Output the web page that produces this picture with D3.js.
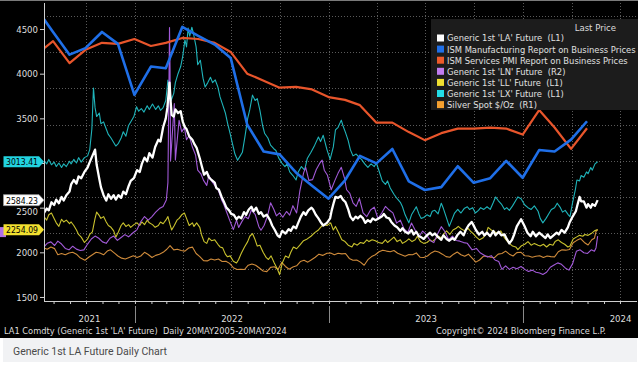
<!DOCTYPE html>
<html><head><meta charset="utf-8">
<script src="https://cdn.jsdelivr.net/npm/d3@7"></script>
<style>html,body{margin:0;padding:0;background:#fff;}svg{display:block;}</style>
</head><body><svg id="c" width="640" height="366"></svg>
<script>
// ---------- DATA ----------
const laPrice = [["2021-07-14",2440],["2021-07-19",2490],["2021-07-23",2470],["2021-07-28",2560],["2021-08-02",2530],["2021-08-06",2590],["2021-08-11",2550],["2021-08-16",2620],["2021-08-20",2580],["2021-08-25",2640],["2021-08-31",2680],["2021-09-03",2760],["2021-09-08",2810],["2021-09-13",2770],["2021-09-17",2850],["2021-09-22",2830],["2021-09-28",2900],["2021-10-04",2950],["2021-10-08",3010],["2021-10-13",3080],["2021-10-18",3150],["2021-10-21",2980],["2021-10-26",2820],["2021-10-29",2730],["2021-11-03",2640],["2021-11-08",2580],["2021-11-12",2650],["2021-11-17",2600],["2021-11-22",2640],["2021-11-26",2590],["2021-12-01",2640],["2021-12-06",2610],["2021-12-10",2680],["2021-12-15",2650],["2021-12-20",2740],["2021-12-24",2800],["2021-12-30",2830],["2022-01-05",2920],["2022-01-10",2900],["2022-01-14",2990],["2022-01-19",3060],["2022-01-24",3020],["2022-01-28",3110],["2022-02-03",3060],["2022-02-08",3180],["2022-02-14",3260],["2022-02-18",3240],["2022-02-23",3400],["2022-02-28",3500],["2022-03-03",3620],["2022-03-07",3900],["2022-03-09",3700],["2022-03-11",3540],["2022-03-15",3520],["2022-03-18",3600],["2022-03-23",3560],["2022-03-28",3580],["2022-04-01",3460],["2022-04-05",3400],["2022-04-08",3380],["2022-04-13",3300],["2022-04-19",3260],["2022-04-22",3220],["2022-04-27",3170],["2022-05-03",3050],["2022-05-06",2980],["2022-05-11",2870],["2022-05-16",2900],["2022-05-20",2840],["2022-05-25",2810],["2022-05-31",2780],["2022-06-03",2720],["2022-06-08",2700],["2022-06-13",2620],["2022-06-17",2570],["2022-06-22",2500],["2022-06-27",2470],["2022-07-01",2430],["2022-07-06",2420],["2022-07-11",2370],["2022-07-15",2400],["2022-07-20",2380],["2022-07-25",2450],["2022-07-29",2420],["2022-08-03",2480],["2022-08-08",2510],["2022-08-12",2460],["2022-08-17",2500],["2022-08-22",2430],["2022-08-26",2450],["2022-08-31",2400],["2022-09-06",2420],["2022-09-12",2360],["2022-09-16",2300],["2022-09-21",2250],["2022-09-26",2190],["2022-09-30",2170],["2022-10-05",2240],["2022-10-11",2210],["2022-10-17",2260],["2022-10-21",2240],["2022-10-26",2290],["2022-10-31",2270],["2022-11-04",2330],["2022-11-09",2400],["2022-11-14",2450],["2022-11-18",2420],["2022-11-23",2470],["2022-11-29",2500],["2022-12-02",2480],["2022-12-07",2420],["2022-12-12",2380],["2022-12-16",2340],["2022-12-21",2300],["2022-12-28",2330],["2023-01-03",2380],["2023-01-06",2470],["2023-01-10",2560],["2023-01-13",2620],["2023-01-18",2610],["2023-01-23",2630],["2023-01-27",2590],["2023-02-01",2560],["2023-02-06",2480],["2023-02-10",2400],["2023-02-15",2360],["2023-02-20",2400],["2023-02-24",2380],["2023-03-01",2410],["2023-03-06",2380],["2023-03-10",2330],["2023-03-15",2360],["2023-03-20",2340],["2023-03-24",2380],["2023-03-29",2360],["2023-04-04",2380],["2023-04-10",2400],["2023-04-14",2430],["2023-04-19",2390],["2023-04-24",2380],["2023-04-28",2340],["2023-05-04",2300],["2023-05-09",2280],["2023-05-15",2240],["2023-05-19",2270],["2023-05-24",2230],["2023-05-30",2210],["2023-06-05",2250],["2023-06-09",2200],["2023-06-14",2230],["2023-06-19",2180],["2023-06-23",2170],["2023-06-28",2150],["2023-07-04",2190],["2023-07-10",2220],["2023-07-14",2190],["2023-07-19",2210],["2023-07-25",2170],["2023-07-31",2140],["2023-08-04",2190],["2023-08-10",2150],["2023-08-15",2130],["2023-08-21",2160],["2023-08-25",2140],["2023-08-30",2190],["2023-09-05",2230],["2023-09-11",2190],["2023-09-15",2250],["2023-09-20",2300],["2023-09-26",2340],["2023-09-29",2310],["2023-10-04",2250],["2023-10-10",2200],["2023-10-16",2230],["2023-10-20",2190],["2023-10-25",2220],["2023-10-31",2180],["2023-11-06",2240],["2023-11-10",2190],["2023-11-16",2230],["2023-11-21",2190],["2023-11-27",2200],["2023-12-01",2150],["2023-12-06",2100],["2023-12-11",2140],["2023-12-15",2200],["2023-12-20",2290],["2023-12-28",2370],["2024-01-03",2300],["2024-01-09",2220],["2024-01-15",2180],["2024-01-19",2230],["2024-01-25",2180],["2024-01-31",2220],["2024-02-06",2190],["2024-02-12",2160],["2024-02-16",2200],["2024-02-21",2160],["2024-02-27",2190],["2024-03-04",2220],["2024-03-08",2200],["2024-03-13",2250],["2024-03-19",2220],["2024-03-25",2280],["2024-03-28",2330],["2024-04-03",2400],["2024-04-09",2460],["2024-04-12",2530],["2024-04-16",2620],["2024-04-19",2570],["2024-04-24",2570],["2024-04-29",2500],["2024-05-02",2540],["2024-05-07",2500],["2024-05-10",2540],["2024-05-15",2520],["2024-05-20",2584.23]];

const lxPrice = [["2021-07-14",3030],["2021-07-19",2990],["2021-07-23",3040],["2021-07-28",2980],["2021-08-02",3010],["2021-08-06",2960],["2021-08-11",3000],["2021-08-16",2950],["2021-08-20",2990],["2021-08-25",2960],["2021-08-31",3020],["2021-09-03",2990],["2021-09-08",3040],["2021-09-13",3000],["2021-09-17",3060],["2021-09-22",3010],["2021-09-28",3060],["2021-10-04",3080],["2021-10-08",3150],["2021-10-12",3380],["2021-10-15",3840],["2021-10-18",3620],["2021-10-21",3520],["2021-10-26",3560],["2021-10-29",3440],["2021-11-03",3460],["2021-11-08",3380],["2021-11-12",3320],["2021-11-17",3280],["2021-11-22",3230],["2021-11-26",3190],["2021-12-01",3220],["2021-12-06",3280],["2021-12-10",3350],["2021-12-15",3300],["2021-12-20",3420],["2021-12-24",3460],["2021-12-30",3520],["2022-01-04",3630],["2022-01-08",3580],["2022-01-13",3610],["2022-01-18",3570],["2022-01-24",3640],["2022-01-28",3600],["2022-02-03",3660],["2022-02-09",3600],["2022-02-14",3640],["2022-02-18",3590],["2022-02-23",3620],["2022-02-28",3700],["2022-03-04",3930],["2022-03-07",3850],["2022-03-10",3700],["2022-03-15",3780],["2022-03-18",3900],["2022-03-23",4000],["2022-03-28",4080],["2022-04-01",4200],["2022-04-05",4380],["2022-04-08",4300],["2022-04-11",4510],["2022-04-14",4420],["2022-04-18",4520],["2022-04-21",4450],["2022-04-26",4300],["2022-04-29",4100],["2022-05-04",4150],["2022-05-09",3950],["2022-05-13",3850],["2022-05-18",3900],["2022-05-23",3960],["2022-05-27",3900],["2022-06-01",3930],["2022-06-06",3850],["2022-06-10",3740],["2022-06-15",3650],["2022-06-20",3560],["2022-06-24",3450],["2022-06-29",3330],["2022-07-04",3200],["2022-07-08",3100],["2022-07-13",3030],["2022-07-18",3080],["2022-07-22",3120],["2022-07-27",3300],["2022-08-01",3500],["2022-08-05",3600],["2022-08-10",3760],["2022-08-15",3700],["2022-08-19",3720],["2022-08-24",3590],["2022-08-29",3420],["2022-09-02",3330],["2022-09-08",3280],["2022-09-13",3200],["2022-09-19",3160],["2022-09-23",3140],["2022-09-28",3060],["2022-10-04",3000],["2022-10-10",2960],["2022-10-14",2990],["2022-10-19",2900],["2022-10-25",2860],["2022-10-31",2810],["2022-11-04",2900],["2022-11-10",2960],["2022-11-16",2920],["2022-11-21",3050],["2022-11-28",3120],["2022-12-05",3200],["2022-12-12",3290],["2022-12-16",3240],["2022-12-21",3310],["2022-12-28",3150],["2023-01-03",3040],["2023-01-09",3180],["2023-01-13",3370],["2023-01-18",3400],["2023-01-24",3480],["2023-01-27",3420],["2023-02-01",3340],["2023-02-06",3250],["2023-02-10",3150],["2023-02-15",3080],["2023-02-21",3100],["2023-02-27",3060],["2023-03-03",3040],["2023-03-09",2990],["2023-03-15",2950],["2023-03-21",2990],["2023-03-27",2960],["2023-03-31",3000],["2023-04-05",2910],["2023-04-11",2800],["2023-04-17",2760],["2023-04-21",2800],["2023-04-26",2720],["2023-05-03",2650],["2023-05-09",2600],["2023-05-15",2560],["2023-05-19",2510],["2023-05-24",2420],["2023-05-31",2330],["2023-06-05",2420],["2023-06-09",2460],["2023-06-14",2510],["2023-06-19",2430],["2023-06-23",2380],["2023-06-28",2390],["2023-07-04",2420],["2023-07-10",2400],["2023-07-14",2460],["2023-07-19",2470],["2023-07-25",2430],["2023-07-31",2550],["2023-08-04",2490],["2023-08-09",2400],["2023-08-15",2290],["2023-08-21",2380],["2023-08-25",2440],["2023-08-31",2480],["2023-09-06",2440],["2023-09-12",2490],["2023-09-18",2510],["2023-09-22",2480],["2023-09-28",2500],["2023-10-03",2440],["2023-10-09",2470],["2023-10-13",2500],["2023-10-19",2480],["2023-10-25",2510],["2023-10-31",2480],["2023-11-06",2560],["2023-11-10",2620],["2023-11-15",2580],["2023-11-21",2540],["2023-11-27",2480],["2023-12-01",2500],["2023-12-06",2470],["2023-12-12",2520],["2023-12-18",2580],["2023-12-22",2620],["2023-12-28",2600],["2024-01-04",2530],["2024-01-10",2500],["2024-01-16",2480],["2024-01-22",2520],["2024-01-29",2460],["2024-02-02",2380],["2024-02-07",2330],["2024-02-13",2380],["2024-02-19",2440],["2024-02-23",2480],["2024-02-29",2500],["2024-03-05",2550],["2024-03-11",2500],["2024-03-15",2450],["2024-03-20",2470],["2024-03-26",2420],["2024-03-29",2400],["2024-04-03",2560],["2024-04-08",2700],["2024-04-11",2810],["2024-04-16",2800],["2024-04-19",2860],["2024-04-24",2840],["2024-04-29",2900],["2024-05-02",2880],["2024-05-07",2950],["2024-05-10",2920],["2024-05-15",2990],["2024-05-20",3013.41]];

const llPrice = [["2021-07-14",2400],["2021-07-19",2360],["2021-07-23",2420],["2021-07-28",2440],["2021-08-02",2380],["2021-08-06",2330],["2021-08-11",2290],["2021-08-16",2370],["2021-08-20",2340],["2021-08-25",2360],["2021-08-31",2320],["2021-09-03",2340],["2021-09-08",2300],["2021-09-13",2250],["2021-09-17",2200],["2021-09-22",2170],["2021-09-28",2110],["2021-10-04",2150],["2021-10-08",2200],["2021-10-13",2230],["2021-10-18",2380],["2021-10-21",2450],["2021-10-26",2410],["2021-10-29",2380],["2021-11-03",2400],["2021-11-08",2340],["2021-11-12",2300],["2021-11-17",2280],["2021-11-22",2240],["2021-11-26",2170],["2021-12-01",2230],["2021-12-06",2300],["2021-12-10",2330],["2021-12-15",2290],["2021-12-20",2310],["2021-12-24",2280],["2021-12-30",2310],["2022-01-05",2330],["2022-01-10",2300],["2022-01-14",2340],["2022-01-19",2310],["2022-01-24",2360],["2022-01-28",2330],["2022-02-03",2310],["2022-02-08",2280],["2022-02-14",2300],["2022-02-18",2340],["2022-02-23",2320],["2022-02-28",2360],["2022-03-04",2400],["2022-03-08",2310],["2022-03-11",2250],["2022-03-16",2300],["2022-03-21",2360],["2022-03-25",2380],["2022-03-30",2420],["2022-04-04",2440],["2022-04-08",2380],["2022-04-13",2300],["2022-04-19",2330],["2022-04-22",2290],["2022-04-27",2330],["2022-05-03",2280],["2022-05-06",2200],["2022-05-11",2120],["2022-05-16",2100],["2022-05-20",2160],["2022-05-25",2130],["2022-05-31",2140],["2022-06-06",2090],["2022-06-10",2060],["2022-06-15",2050],["2022-06-20",1980],["2022-06-24",1950],["2022-06-29",1960],["2022-07-05",1900],["2022-07-11",1880],["2022-07-15",1920],["2022-07-20",1990],["2022-07-26",2060],["2022-08-01",2120],["2022-08-05",2180],["2022-08-10",2210],["2022-08-15",2140],["2022-08-19",2070],["2022-08-24",2080],["2022-08-30",2000],["2022-09-05",1940],["2022-09-09",1920],["2022-09-14",1960],["2022-09-20",1880],["2022-09-26",1810],["2022-09-30",1750],["2022-10-05",1880],["2022-10-11",1960],["2022-10-17",1940],["2022-10-21",2000],["2022-10-26",2060],["2022-11-01",2040],["2022-11-07",2080],["2022-11-14",2130],["2022-11-21",2150],["2022-11-28",2180],["2022-12-05",2220],["2022-12-12",2250],["2022-12-16",2280],["2022-12-21",2310],["2022-12-28",2300],["2023-01-04",2330],["2023-01-09",2250],["2023-01-13",2290],["2023-01-19",2220],["2023-01-25",2140],["2023-01-31",2120],["2023-02-06",2080],["2023-02-13",2060],["2023-02-17",2100],["2023-02-23",2080],["2023-03-01",2110],["2023-03-07",2100],["2023-03-13",2140],["2023-03-17",2120],["2023-03-23",2140],["2023-03-29",2130],["2023-04-04",2110],["2023-04-11",2100],["2023-04-17",2140],["2023-04-21",2110],["2023-04-27",2140],["2023-05-03",2170],["2023-05-09",2120],["2023-05-15",2140],["2023-05-19",2100],["2023-05-25",2120],["2023-05-31",2150],["2023-06-06",2120],["2023-06-12",2140],["2023-06-16",2180],["2023-06-22",2120],["2023-06-28",2100],["2023-07-04",2110],["2023-07-10",2140],["2023-07-14",2120],["2023-07-20",2150],["2023-07-26",2180],["2023-07-31",2160],["2023-08-04",2200],["2023-08-10",2240],["2023-08-16",2200],["2023-08-22",2250],["2023-08-28",2270],["2023-09-01",2290],["2023-09-07",2260],["2023-09-13",2240],["2023-09-19",2270],["2023-09-25",2230],["2023-09-29",2210],["2023-10-05",2170],["2023-10-11",2140],["2023-10-17",2160],["2023-10-23",2200],["2023-10-27",2280],["2023-11-02",2250],["2023-11-08",2230],["2023-11-14",2210],["2023-11-20",2240],["2023-11-27",2160],["2023-12-01",2130],["2023-12-06",2100],["2023-12-12",2070],["2023-12-18",2060],["2023-12-22",2030],["2023-12-28",2070],["2024-01-04",2090],["2024-01-10",2120],["2024-01-16",2080],["2024-01-22",2100],["2024-01-29",2080],["2024-02-02",2070],["2024-02-08",2090],["2024-02-14",2060],["2024-02-20",2090],["2024-02-26",2080],["2024-03-01",2120],["2024-03-07",2140],["2024-03-13",2110],["2024-03-19",2090],["2024-03-25",2060],["2024-03-29",2070],["2024-04-04",2150],["2024-04-10",2170],["2024-04-16",2190],["2024-04-22",2180],["2024-04-26",2200],["2024-05-02",2190],["2024-05-08",2210],["2024-05-14",2240],["2024-05-20",2254.09]];

const lnPrice = [["2021-07-14",18100],["2021-07-20",18600],["2021-07-27",18800],["2021-08-03",18300],["2021-08-09",18900],["2021-08-16",18500],["2021-08-23",17900],["2021-08-30",17700],["2021-09-06",18200],["2021-09-13",17800],["2021-09-20",17600],["2021-09-27",17700],["2021-10-04",18500],["2021-10-11",19200],["2021-10-18",19600],["2021-10-25",19300],["2021-11-01",18800],["2021-11-08",18600],["2021-11-15",19300],["2021-11-22",19600],["2021-11-29",19000],["2021-12-06",19400],["2021-12-13",19800],["2021-12-20",19500],["2021-12-29",20100],["2022-01-05",20500],["2022-01-12",21600],["2022-01-19",22300],["2022-01-26",21800],["2022-02-02",22300],["2022-02-09",22900],["2022-02-16",23400],["2022-02-23",23700],["2022-03-01",24600],["2022-03-04",27000],["2022-03-07",48400],["2022-03-08",42500],["2022-03-09",30000],["2022-03-16",37900],["2022-03-18",30100],["2022-03-21",32500],["2022-03-25",35600],["2022-03-30",34000],["2022-04-04",34600],["2022-04-08",32900],["2022-04-13",33500],["2022-04-19",31900],["2022-04-25",30800],["2022-04-29",28700],["2022-05-05",28200],["2022-05-10",27300],["2022-05-16",26600],["2022-05-20",28000],["2022-05-26",27100],["2022-06-01",26500],["2022-06-07",25900],["2022-06-13",24600],["2022-06-17",24000],["2022-06-22",23000],["2022-06-28",21800],["2022-07-05",20500],["2022-07-11",21800],["2022-07-15",20800],["2022-07-21",21600],["2022-07-27",22300],["2022-08-02",22000],["2022-08-08",23200],["2022-08-15",22600],["2022-08-22",20900],["2022-08-26",20400],["2022-09-01",21100],["2022-09-07",22300],["2022-09-13",24200],["2022-09-19",23300],["2022-09-24",22400],["2022-09-30",22800],["2022-10-06",22200],["2022-10-13",23000],["2022-10-19",22500],["2022-10-25",23800],["2022-11-01",22800],["2022-11-07",25800],["2022-11-14",28300],["2022-11-18",29100],["2022-11-24",27300],["2022-12-01",27400],["2022-12-08",28800],["2022-12-14",29600],["2022-12-19",30100],["2022-12-23",28700],["2022-12-29",28000],["2023-01-05",26000],["2023-01-12",27300],["2023-01-18",28300],["2023-01-24",29100],["2023-01-30",27600],["2023-02-03",26000],["2023-02-09",25500],["2023-02-15",24200],["2023-02-21",23700],["2023-02-27",24800],["2023-03-06",22800],["2023-03-13",22300],["2023-03-20",23200],["2023-03-27",23600],["2023-04-03",22000],["2023-04-10",22800],["2023-04-17",23700],["2023-04-24",23200],["2023-05-01",22800],["2023-05-08",21400],["2023-05-15",21800],["2023-05-22",20600],["2023-05-29",20100],["2023-06-05",21400],["2023-06-12",20400],["2023-06-19",19500],["2023-06-26",20300],["2023-07-03",19800],["2023-07-10",19000],["2023-07-17",18700],["2023-07-24",19900],["2023-07-31",20900],["2023-08-07",20200],["2023-08-14",19100],["2023-08-21",19600],["2023-08-28",19000],["2023-09-04",18900],["2023-09-11",18700],["2023-09-18",18600],["2023-09-27",17700],["2023-10-05",17900],["2023-10-12",17300],["2023-10-19",17000],["2023-10-26",16700],["2023-11-02",16900],["2023-11-09",16300],["2023-11-16",16100],["2023-11-22",15000],["2023-11-29",15500],["2023-12-06",15000],["2023-12-13",15300],["2023-12-20",15100],["2023-12-28",15400],["2024-01-04",15000],["2024-01-11",14700],["2024-01-18",14900],["2024-01-25",14600],["2024-02-01",14500],["2024-02-07",14300],["2024-02-14",14600],["2024-02-21",15300],["2024-02-28",15600],["2024-03-06",15900],["2024-03-13",15700],["2024-03-20",15200],["2024-03-27",14900],["2024-04-03",15800],["2024-04-10",17500],["2024-04-17",17700],["2024-04-24",17300],["2024-05-01",17200],["2024-05-08",17700],["2024-05-14",17500],["2024-05-17",18000],["2024-05-20",19600]];

const silverPrice = [["2021-07-14",25.6],["2021-07-20",25.2],["2021-07-27",25.9],["2021-08-03",25.4],["2021-08-09",23.4],["2021-08-16",23.8],["2021-08-23",23.4],["2021-08-30",24.0],["2021-09-06",24.2],["2021-09-13",23.6],["2021-09-20",22.4],["2021-09-29",21.6],["2021-10-06",22.6],["2021-10-13",23.4],["2021-10-20",24.2],["2021-10-27",24.0],["2021-11-03",23.4],["2021-11-10",24.6],["2021-11-16",25.0],["2021-11-23",24.0],["2021-11-30",23.0],["2021-12-07",22.3],["2021-12-14",22.0],["2021-12-21",22.5],["2021-12-29",23.1],["2022-01-05",22.5],["2022-01-12",23.0],["2022-01-19",24.2],["2022-01-26",23.5],["2022-02-02",22.5],["2022-02-09",23.2],["2022-02-16",23.6],["2022-02-23",24.2],["2022-03-02",25.2],["2022-03-08",26.4],["2022-03-15",25.0],["2022-03-22",25.2],["2022-03-29",24.8],["2022-04-05",24.6],["2022-04-12",25.6],["2022-04-19",25.9],["2022-04-26",23.8],["2022-05-03",22.8],["2022-05-10",21.5],["2022-05-17",21.4],["2022-05-24",22.0],["2022-05-31",21.7],["2022-06-07",22.0],["2022-06-14",21.2],["2022-06-21",21.3],["2022-06-28",20.6],["2022-07-05",19.2],["2022-07-12",18.6],["2022-07-19",18.7],["2022-07-26",18.6],["2022-08-02",20.0],["2022-08-09",20.4],["2022-08-16",20.0],["2022-08-23",19.1],["2022-08-30",18.1],["2022-09-06",17.9],["2022-09-13",19.3],["2022-09-20",19.5],["2022-09-27",18.6],["2022-10-04",20.9],["2022-10-11",19.6],["2022-10-18",18.7],["2022-10-25",19.4],["2022-11-01",19.8],["2022-11-08",21.2],["2022-11-15",21.6],["2022-11-22",21.0],["2022-11-29",21.8],["2022-12-06",22.6],["2022-12-13",23.6],["2022-12-20",23.2],["2022-12-28",23.9],["2023-01-04",24.0],["2023-01-11",23.4],["2023-01-18",23.9],["2023-01-25",23.7],["2023-02-01",23.8],["2023-02-08",22.2],["2023-02-15",21.6],["2023-02-22",21.7],["2023-03-01",21.0],["2023-03-08",20.0],["2023-03-15",21.8],["2023-03-22",22.8],["2023-03-29",23.4],["2023-04-05",24.4],["2023-04-12",24.9],["2023-04-19",24.6],["2023-04-26",24.4],["2023-05-03",24.8],["2023-05-10",23.9],["2023-05-17",23.4],["2023-05-24",22.9],["2023-05-31",23.5],["2023-06-07",23.4],["2023-06-14",24.0],["2023-06-21",22.6],["2023-06-28",22.5],["2023-07-05",23.0],["2023-07-12",24.0],["2023-07-19",24.6],["2023-07-26",24.3],["2023-08-02",23.6],["2023-08-09",22.8],["2023-08-16",22.6],["2023-08-23",23.6],["2023-08-30",24.3],["2023-09-06",23.4],["2023-09-13",22.9],["2023-09-20",23.6],["2023-09-27",22.3],["2023-10-04",21.0],["2023-10-11",21.7],["2023-10-18",22.9],["2023-10-25",22.9],["2023-11-01",22.6],["2023-11-08",22.5],["2023-11-15",23.6],["2023-11-22",23.8],["2023-11-29",24.6],["2023-12-06",23.6],["2023-12-13",23.0],["2023-12-20",24.1],["2023-12-28",24.2],["2024-01-04",23.1],["2024-01-11",23.0],["2024-01-18",22.6],["2024-01-25",22.9],["2024-02-01",23.1],["2024-02-08",22.5],["2024-02-15",23.0],["2024-02-22",22.8],["2024-02-29",22.7],["2024-03-07",24.4],["2024-03-14",25.0],["2024-03-21",24.9],["2024-03-28",25.1],["2024-04-04",27.3],["2024-04-11",28.1],["2024-04-18",28.7],["2024-04-25",27.4],["2024-05-02",26.6],["2024-05-09",28.3],["2024-05-14",28.8],["2024-05-17",31.0],["2024-05-20",31.6]];

// monthly ISM prices indexes (Jun 2021 .. Apr 2024), plotted at month end
const ismFirstMonth = "2021-06";
const ismMfgPrices = [92.1,85.7,79.4,81.2,85.7,82.4,68.2, 76.1,75.6,87.1,84.6,82.2,78.5,60.0,52.5,51.7,46.6,43.0,39.4, 44.5,51.3,49.2,53.2,44.2,41.8,42.6,48.4,43.8,45.1,49.9,45.2, 52.9,52.5,55.8,60.9];
const ismSvcPrices = [79.5,83.3,77.0,80.8,82.8,82.5,83.9, 81.9,82.8,84.2,83.9,82.8,80.2,74.0,72.0,70.0,70.2,69.5,67.3, 66.5,65.0,60.0,60.0,57.3,55.0,57.0,58.3,58.3,58.6,58.3,56.6, 63.6,58.6,52.5,58.4];

const leftTicks = [1500,2000,2500,4000,3500,4500];
const gridTicksR2 = [15000,20000,25000,30000,35000,40000,45000,50000];
const yearLabels = [2021,2022,2023,2024];
const legendItems = [
  {name:"Generic 1st 'LA' Future  (L1)", swatch:"#ffffff"},
  {name:"ISM Manufacturing Report on Business Prices", swatch:"#1f6fe8"},
  {name:"ISM Services PMI Report on Business Prices", swatch:"#ee5a2a"},
  {name:"Generic 1st 'LN' Future  (R2)", swatch:"#c07cf0"},
  {name:"Generic 1st 'LL' Future  (L1)", swatch:"#f0e030"},
  {name:"Generic 1st 'LX' Future  (L1)", swatch:"#22dde8"},
  {name:"Silver Spot $/Oz  (R1)", swatch:"#f4a030"}
];
const lastLabels = [
  {text:"3013.41", value:3013.41, fill:"#22d3e0"},
  {text:"2584.23", value:2584.23, fill:"#ffffff"},
  {text:"2254.09", value:2254.09, fill:"#f2e030"}
];

// ---------- CHART ----------
const parse = d3.timeParse("%Y-%m-%d");
const svg = d3.select("#c");
const FONT = "'Liberation Sans Narrow','Arial Narrow','DejaVu Sans Condensed',sans-serif";
const P = {l:44, r:637, t:0, b:301};

svg.append("rect").attr("x",0).attr("y",0).attr("width",638).attr("height",338).attr("fill","#000");
svg.append("line").attr("x1",0).attr("x2",638).attr("y1",0.5).attr("y2",0.5).attr("stroke","#7a7a7a");
svg.append("rect").attr("x",3).attr("y",338).attr("width",634).attr("height",24).attr("fill","#f1f2f4");

const x = d3.scaleTime().domain([parse("2021-07-14"), parse("2024-08-02")]).range([P.l, P.r]);
const yL = d3.scaleLinear().domain([1455,4825]).range([P.b, P.t]);
const yMfg = d3.scaleLinear().domain([10.97,94.58]).range([P.b, P.t]);
const ySvc = d3.scaleLinear().domain([9.04,95.04]).range([P.b, P.t]);
const yR1 = d3.scaleLinear().domain([8.34,106.4]).range([P.b, P.t]);
const yR2 = d3.scaleLinear().domain([10635,52210]).range([P.b, P.t]);

// grid
const gridG = svg.append("g");
const quarterTicks = d3.timeMonth.range(parse("2021-07-01"), parse("2024-08-01")).filter(d => d.getMonth()%3===0 && x(d) > P.l+2);
gridG.selectAll("line.v").data(quarterTicks).join("line")
  .attr("x1", d=>Math.round(x(d))+0.5).attr("x2", d=>Math.round(x(d))+0.5)
  .attr("y1", 3).attr("y2", P.b).attr("stroke","#5a5a5a").attr("stroke-dasharray","1,2");
gridG.selectAll("line.h").data(gridTicksR2).join("line")
  .attr("x1", P.l).attr("x2", P.r).attr("y1", d=>Math.round(yR2(d))+0.5).attr("y2", d=>Math.round(yR2(d))+0.5)
  .attr("stroke","#5a5a5a").attr("stroke-dasharray","1,2");

// clip
svg.append("clipPath").attr("id","clip").append("rect").attr("x",P.l).attr("y",P.t).attr("width",P.r-P.l).attr("height",P.b-P.t);
const lines = svg.append("g").attr("clip-path","url(#clip)");

function series(arr){ return arr.map(d => ({date: parse(d[0]), value: d[1]})); }
const ismMonths = d3.timeMonth.range(d3.timeParse("%Y-%m")(ismFirstMonth), parse("2024-05-01"))
  .map(m => d3.timeDay.offset(d3.timeMonth.offset(m,1), -1));
const mfg = ismMonths.map((d,i)=>({date:d, value:ismMfgPrices[i]}));
const svc = ismMonths.map((d,i)=>({date:d, value:ismSvcPrices[i]}));

function draw(data, yS, color, w){
  const gen = d3.line().x(d=>x(d.date)).y(d=>yS(d.value)).curve(d3.curveLinear);
  lines.append("path").datum(data).attr("d", gen).attr("fill","none")
    .attr("stroke", color).attr("stroke-width", w).attr("stroke-linejoin","round");
}
draw(series(silverPrice), yR1, "#cf8b3b", 1.1);
draw(series(llPrice), yL, "#c9c22e", 1.1);
draw(series(lxPrice), yL, "#1fb4ba", 1.1);
draw(series(lnPrice), yR2, "#a25ad8", 1.1);
draw(svc, ySvc, "#e8552b", 2.2);
draw(mfg, yMfg, "#1f6fe8", 2.6);
draw(series(laPrice), yL, "#ffffff", 2.3);

// left axis (the 3000 label is hidden behind the last-price tag in the original)
const axL = svg.append("g").attr("transform",`translate(${P.l},0)`)
  .call(d3.axisLeft(yL).tickValues(leftTicks).tickSize(4).tickPadding(2).tickFormat(d3.format("d")));
axL.select(".domain").attr("stroke","#cfcfcf").attr("d",`M0.5,3V${P.b}`);
axL.selectAll(".tick line").attr("stroke","#cfcfcf");
axL.selectAll(".tick text").attr("fill","#dedede").attr("font-family",FONT).attr("font-size",9.5);
axL.selectAll(".tick").filter(d=>d===2500).select("text").attr("dy","0.75em");
svg.append("g").attr("transform",`translate(${P.l},0)`).append("line")
  .attr("x1",-4).attr("x2",0).attr("y1",Math.round(yL(3000))+0.5).attr("y2",Math.round(yL(3000))+0.5).attr("stroke","#cfcfcf");

// bottom axis
const monthTicks = d3.timeMonth.range(parse("2021-08-01"), parse("2024-08-01"));
const axB = svg.append("g").attr("transform",`translate(0,${P.b})`)
  .call(d3.axisBottom(x).tickValues(monthTicks).tickSize(3).tickFormat(""));
axB.select(".domain").attr("stroke","#cfcfcf").attr("d",`M${P.l},0.5H${P.r}`);
axB.selectAll(".tick line").attr("stroke","#cfcfcf");

const yearStarts = [parse("2022-01-01"), parse("2023-01-01"), parse("2024-01-01")];
svg.selectAll("line.ysep").data(yearStarts).join("line")
  .attr("x1", d=>Math.round(x(d))+0.5).attr("x2", d=>Math.round(x(d))+0.5)
  .attr("y1", 306).attr("y2", 323).attr("stroke","#8a8a8a");
svg.selectAll("text.year").data(yearLabels).join("text")
  .attr("x", yv => { const a = Math.max(P.l, x(new Date(yv,0,1))); const b = x(new Date(yv+1,0,1)); return (a+b)/2; })
  .attr("y", 322).attr("text-anchor","middle").attr("fill","#dedede")
  .attr("font-family",FONT).attr("font-size",9.5).text(d=>d);

// footer
svg.append("text").attr("x",4).attr("y",334).attr("fill","#dcdcdc").attr("font-family",FONT).attr("font-size",9.2)
  .style("white-space","pre").text("LA1 Comdty (Generic 1st 'LA' Future)  Daily 20MAY2005-20MAY2024");
svg.append("text").attr("x",606).attr("y",334).attr("text-anchor","end").attr("fill","#dcdcdc").attr("font-family",FONT).attr("font-size",9.2)
  .text("Copyright\u00A9 2024 Bloomberg Finance L.P.");
svg.append("text").attr("x",13).attr("y",355).attr("fill","#4a4a4a").attr("font-family","Roboto, 'Open Sans', sans-serif").attr("font-size",10.5)
  .text("Generic 1st LA Future Daily Chart");

// legend
const lg = svg.append("g");
lg.append("rect").attr("x",431).attr("y",19).attr("width",207).attr("height",91).attr("fill","#1c1c1c");
lg.append("text").attr("x",616).attr("y",31).attr("text-anchor","end").attr("fill","#dcdcdc")
  .attr("font-family",FONT).attr("font-size",9.5).text("Last Price");
const li = lg.selectAll("g.item").data(legendItems).join("g")
  .attr("transform",(d,i)=>`translate(0,${38 + i*11.1})`);
li.append("rect").attr("x",437).attr("y",-3.5).attr("width",7).attr("height",7).attr("fill",d=>d.swatch);
li.append("text").attr("x",447).attr("y",3.4).attr("fill","#e0e0e0").attr("font-family",FONT)
  .attr("font-size",9.3).style("white-space","pre").text(d=>d.name);

// last-price tags
const lnLast = lnPrice[lnPrice.length-1][1];
svg.append("rect").attr("x",0).attr("y",yR2(lnLast)-9).attr("width",6).attr("height",10).attr("fill","#b070e8");
const tags = svg.selectAll("g.tag").data(lastLabels).join("g")
  .attr("transform", d=>`translate(0,${yL(d.value)})`);
tags.append("path").attr("d","M3.5,-5.5H39L44,0L39,5.5H3.5Z")
  .attr("fill",d=>d.fill).attr("stroke",d=>d.fill==="#ffffff"?"#999":"none").attr("stroke-width",0.8);
tags.append("text").attr("x",6).attr("y",3.4).attr("fill","#000").attr("font-family",FONT).attr("font-size",9.5)
  .attr("textLength",32).attr("lengthAdjust","spacingAndGlyphs").text(d=>d.text);
</script>
</body></html>
